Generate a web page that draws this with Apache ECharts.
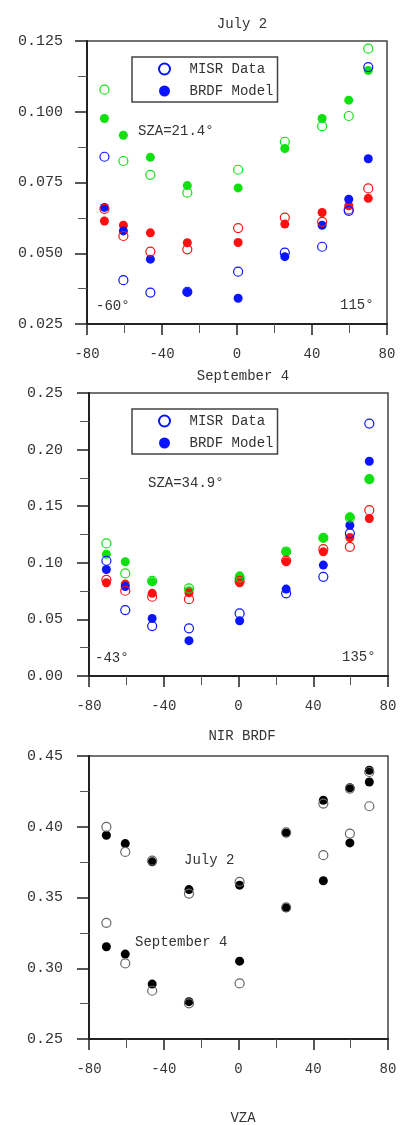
<!DOCTYPE html>
<html>

<head>
  <meta charset="utf-8">
  <title>MISR BRDF</title>
  <script src="https://cdn.jsdelivr.net/npm/echarts@6/dist/echarts.min.js"></script>
  <style>
    html, body { margin: 0; padding: 0; background: #fff; }
    #chart { width: 401px; height: 1125px; }
  </style>
</head>

<body>
  <div id="chart"></div>
  <script type="text/javascript">
    // view zenith angles of the nine cameras
    var vza = [-70.7, -60.6, -46.2, -26.5, 0.6, 25.5, 45.4, 59.6, 70];

    // July 2 (blue / green / red), data = MISR, model = BRDF fit
    var julBlueData = [0.0841, 0.0405, 0.0361, 0.0364, 0.0435, 0.0502, 0.0523, 0.0650, 0.1158];
    var julBlueModel = [0.0662, 0.0579, 0.0479, 0.0362, 0.0341, 0.0488, 0.0599, 0.0691, 0.0834];
    var julGreenData = [0.1078, 0.0826, 0.0777, 0.0714, 0.0795, 0.0894, 0.0949, 0.0985, 0.1223];
    var julGreenModel = [0.0976, 0.0917, 0.0839, 0.0739, 0.0731, 0.0870, 0.0976, 0.1041, 0.1146];
    var julRedData = [0.0657, 0.0561, 0.0506, 0.0514, 0.0589, 0.0626, 0.0611, 0.0655, 0.0729];
    var julRedModel = [0.0614, 0.0599, 0.0572, 0.0537, 0.0538, 0.0603, 0.0644, 0.0668, 0.0694];

    // September 4
    var sepBlueData = [0.1018, 0.0582, 0.0441, 0.0421, 0.0553, 0.0730, 0.0876, 0.1260, 0.2230];
    var sepBlueModel = [0.0941, 0.0790, 0.0509, 0.0312, 0.0488, 0.0768, 0.0980, 0.1332, 0.1897];
    var sepGreenData = [0.1171, 0.0906, 0.0840, 0.0774, 0.0870, 0.1100, 0.1220, 0.1400, 0.1740];
    var sepGreenModel = [0.1076, 0.1009, 0.0832, 0.0753, 0.0885, 0.1097, 0.1220, 0.1406, 0.1738];
    var sepRedData = [0.0850, 0.0753, 0.0700, 0.0679, 0.0840, 0.1020, 0.1120, 0.1141, 0.1465];
    var sepRedModel = [0.0824, 0.0812, 0.0730, 0.0735, 0.0824, 0.1009, 0.1097, 0.1224, 0.1391];

    // NIR BRDF
    var nirJulData = [0.3999, 0.3822, 0.3760, 0.3528, 0.3611, 0.3960, 0.4164, 0.4270, 0.4387];
    var nirJulModel = [0.3940, 0.3881, 0.3752, 0.3556, 0.3587, 0.3956, 0.4187, 0.4276, 0.4399];
    var nirSepData = [0.3321, 0.3034, 0.2841, 0.2752, 0.2893, 0.3430, 0.3799, 0.3952, 0.4145];
    var nirSepModel = [0.3152, 0.3100, 0.2888, 0.2764, 0.3050, 0.3427, 0.3618, 0.3886, 0.4316];

    var FONT = '"Liberation Mono", "DejaVu Sans Mono", monospace';
    var TXT = '#333';

    function pairs(ys) {
      var out = [];
      for (var i = 0; i < ys.length; i++) out.push([vza[i], ys[i]]);
      return out;
    }

    // open circle = measured, filled circle = model
    function scatter(name, ys, color, open, idx) {
      return {
        name: name,
        type: 'scatter',
        xAxisIndex: idx,
        yAxisIndex: idx,
        symbol: 'circle',
        symbolSize: open ? 9 : 9,
        data: pairs(ys),
        itemStyle: open
          ? { color: 'rgba(0,0,0,0)', borderColor: color, borderWidth: 1.2, opacity: 1 }
          : { color: color, opacity: 1 },
        z: open ? 3 : 2
      };
    }

    function xAxis(idx) {
      return {
        type: 'value',
        gridIndex: idx,
        min: -80, max: 80, interval: 40,
        axisLine: { show: true, onZero: false, lineStyle: { color: '#222', width: 2 } },
        axisTick: { show: true, inside: false, length: 11, lineStyle: { color: '#222', width: 1.5 } },
        minorTick: { show: true, splitNumber: 2, length: 9, lineStyle: { color: '#555', width: 1 } },
        splitLine: { show: false },
        axisLabel: { margin: 23, fontFamily: FONT, fontSize: 14, color: TXT }
      };
    }

    function yAxis(idx, min, max, step, dec, margin) {
      return {
        type: 'value',
        gridIndex: idx,
        min: min, max: max, interval: step,
        axisLine: { show: true, onZero: false, lineStyle: { color: '#222', width: 2 } },
        axisTick: { show: true, inside: false, length: 12, lineStyle: { color: '#222', width: 1.5 } },
        minorTick: { show: true, splitNumber: 2, length: 9, lineStyle: { color: '#555', width: 1 } },
        splitLine: { show: false },
        axisLabel: {
          margin: margin, fontFamily: FONT, fontSize: 15, color: TXT,
          formatter: function (v) { return v.toFixed(dec); }
        }
      };
    }

    function legend(top) {
      return {
        data: ['MISR Data', 'BRDF Model'].map(function (n) { return { name: n }; }),
        orient: 'vertical',
        left: 132, top: top,
        itemWidth: 12, itemHeight: 11, itemGap: 8,
        padding: [5, 4, 4, 26],
        borderColor: '#444', borderWidth: 1.5,
        selectedMode: false,
        textStyle: { fontFamily: FONT, fontSize: 14, color: TXT, padding: [0, 0, 0, 14] }
      };
    }

    function label(x, y, txt, align) {
      return {
        type: 'text', left: x, top: y,
        style: { text: txt, fontFamily: FONT, fontSize: 14, fill: TXT, textAlign: align || 'left' }
      };
    }

    var BLUE = '#0a14ff', GREEN = '#10e010', RED = '#ff1010', BLACK = '#000', GREY = '#666';

    var option = {
      animation: false,
      backgroundColor: '#fff',
      grid: [
        { left: 87, top: 41, width: 300, height: 283, show: true, borderColor: '#444', borderWidth: 1.5 },
        { left: 89, top: 393, width: 299, height: 283, show: true, borderColor: '#444', borderWidth: 1.5 },
        { left: 89, top: 756, width: 299, height: 283, show: true, borderColor: '#444', borderWidth: 1.5 }
      ],
      xAxis: [xAxis(0), xAxis(1), xAxis(2)],
      yAxis: [
        yAxis(0, 0.025, 0.125, 0.025, 3, 24),
        yAxis(1, 0, 0.25, 0.05, 2, 26),
        yAxis(2, 0.25, 0.45, 0.05, 2, 26)
      ],
      legend: [legend(57), legend(409)],
      title: [
        { text: 'July 2', left: 237, top: 12, textAlign: 'center', textStyle: { fontFamily: FONT, fontSize: 14, fontWeight: 'normal', color: TXT } },
        { text: 'September 4', left: 238, top: 364, textAlign: 'center', textStyle: { fontFamily: FONT, fontSize: 14, fontWeight: 'normal', color: TXT } },
        { text: 'NIR BRDF', left: 237, top: 724, textAlign: 'center', textStyle: { fontFamily: FONT, fontSize: 14, fontWeight: 'normal', color: TXT } },
        { text: 'VZA', left: 238, top: 1106, textAlign: 'center', textStyle: { fontFamily: FONT, fontSize: 14, fontWeight: 'normal', color: TXT } }
      ],
      graphic: [
        label(138, 124, 'SZA=21.4°'),
        label(96, 299, '-60°'),
        label(340, 298, '115°'),
        label(148, 476, 'SZA=34.9°'),
        label(95, 651, '-43°'),
        label(342, 650, '135°'),
        label(184, 853, 'July 2'),
        label(135, 935, 'September 4')
      ],
      series: [
        scatter('green data', julGreenData, GREEN, true, 0),
        scatter('green model', julGreenModel, GREEN, false, 0),
        scatter('red data', julRedData, RED, true, 0),
        scatter('red model', julRedModel, RED, false, 0),
        scatter('BRDF Model', julBlueModel, BLUE, false, 0),
        scatter('MISR Data', julBlueData, BLUE, true, 0),

        scatter('green data', sepGreenData, GREEN, true, 1),
        scatter('green model', sepGreenModel, GREEN, false, 1),
        scatter('red data', sepRedData, RED, true, 1),
        scatter('red model', sepRedModel, RED, false, 1),
        scatter('BRDF Model', sepBlueModel, BLUE, false, 1),
        scatter('MISR Data', sepBlueData, BLUE, true, 1),

        scatter('nir jul data', nirJulData, GREY, true, 2),
        scatter('nir jul model', nirJulModel, BLACK, false, 2),
        scatter('nir sep data', nirSepData, GREY, true, 2),
        scatter('nir sep model', nirSepModel, BLACK, false, 2)
      ]
    };

    var myChart = echarts.init(document.getElementById('chart'));
    myChart.setOption(option);
  </script>
</body>

</html>
